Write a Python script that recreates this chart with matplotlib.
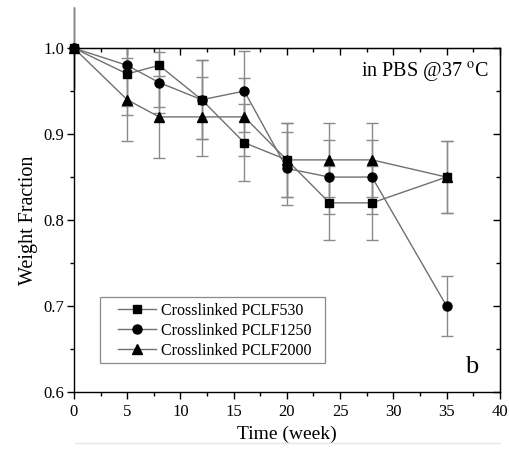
import numpy as np
import matplotlib
matplotlib.use("Agg")
import matplotlib.pyplot as plt
from matplotlib.lines import Line2D
from matplotlib.patches import Rectangle
from matplotlib.ticker import MultipleLocator

plt.rcParams['font.family'] = ['Liberation Serif', 'DejaVu Serif']
plt.rcParams['mathtext.fontset'] = 'stix'

# ----- data (weight fraction vs time in weeks) -----
weeks = [0, 5, 8, 12, 16, 20, 24, 28, 35]
pclf530 = [1.00, 0.97, 0.98, 0.94, 0.89, 0.87, 0.82, 0.82, 0.85]
pclf530_err = [0.048, 0.048, 0.048, 0.046, 0.045, 0.043, 0.043, 0.043, 0.042]
pclf1250 = [1.00, 0.98, 0.96, 0.94, 0.95, 0.86, 0.85, 0.85, 0.70]
pclf1250_err = [0.048, 0.047, 0.035, 0.046, 0.047, 0.043, 0.043, 0.043, 0.035]
pclf2000 = [1.00, 0.94, 0.92, 0.92, 0.92, 0.87, 0.87, 0.87, 0.85]
pclf2000_err = [0.048, 0.048, 0.048, 0.046, 0.045, 0.043, 0.043, 0.043, 0.042]

series = [
    ('Crosslinked PCLF530', pclf530, pclf530_err, 's'),
    ('Crosslinked PCLF1250', pclf1250, pclf1250_err, 'o'),
    ('Crosslinked PCLF2000', pclf2000, pclf2000_err, '^'),
]

fig = plt.figure(figsize=(5.1, 4.5), dpi=100)
ax = fig.add_axes([0.145, 0.129, 0.835, 0.764])

# error bars first (gray); the week-0 bar is drawn without caps, unclipped
for name, vals, err, mk in series:
    ax.errorbar(weeks[1:], vals[1:], yerr=err[1:], fmt='none', ecolor='#8a8a8a',
                elinewidth=1.0, capsize=4, capthick=1.0, zorder=2)
    eb0 = ax.errorbar(weeks[:1], vals[:1], yerr=err[:1], fmt='none',
                      ecolor='#8a8a8a', elinewidth=1.0, capsize=0, zorder=1)
    for art in eb0.get_children():
        art.set_clip_on(False)

handles = []
for name, vals, err, mk in series:
    ms = 6.5 if mk != 's' else 6
    ax.plot(weeks, vals, '-', color='#707070', lw=1.0, zorder=3)
    ax.plot(weeks, vals, mk, color='black', ms=ms, zorder=4, clip_on=False)
    handles.append(Line2D([], [], color='#707070', lw=1.0, marker=mk,
                          markerfacecolor='black', markeredgecolor='black', ms=ms))

ax.set_xlim(0, 40)
ax.set_ylim(0.6, 1.0)
ax.xaxis.set_major_locator(MultipleLocator(5))
ax.xaxis.set_minor_locator(MultipleLocator(2.5))
ax.yaxis.set_major_locator(MultipleLocator(0.1))
ax.yaxis.set_minor_locator(MultipleLocator(0.05))
ax.yaxis.set_major_formatter(plt.FuncFormatter(lambda v, p: f'{v:.1f}'))
# bottom/left ticks point out, top/right ticks point in
ax.tick_params(which='both', direction='out', labelsize=12, pad=2)
ax.tick_params(axis='x', pad=4)
ax.tick_params(which='major', length=5, width=1)
ax.tick_params(which='minor', length=3, width=1)
for sp in ax.spines.values():
    sp.set_linewidth(1.0)

top = ax.secondary_xaxis('top')
top.xaxis.set_major_locator(MultipleLocator(5))
top.xaxis.set_minor_locator(MultipleLocator(2.5))
top.tick_params(which='both', direction='in', labeltop=False)
top.tick_params(which='major', length=5, width=1)
top.tick_params(which='minor', length=3, width=1)
right = ax.secondary_yaxis('right')
right.yaxis.set_major_locator(MultipleLocator(0.1))
right.yaxis.set_minor_locator(MultipleLocator(0.05))
right.tick_params(which='both', direction='in', labelright=False)
right.tick_params(which='major', length=5, width=1)
right.tick_params(which='minor', length=3, width=1)

ax.set_xlabel('Time (week)', fontsize=14, labelpad=4)
ax.set_ylabel('Weight Fraction', fontsize=14.5, labelpad=4)

ax.text(0.975, 0.965, r'in PBS @37 $^{\rm o}$C', transform=ax.transAxes,
        ha='right', va='top', fontsize=14.5)
ax.text(0.935, 0.04, 'b', transform=ax.transAxes, ha='center', va='bottom',
        fontsize=19)

# legend entries without a frame; the box is drawn separately for wider margins
leg = ax.legend(handles, [s[0] for s in series], loc='center left',
                bbox_to_anchor=(0.103, 0.178), fontsize=11.5, frameon=False,
                handlelength=2.4, borderpad=0, borderaxespad=0,
                labelspacing=0.25, handletextpad=0.3)
ax.add_patch(Rectangle((0.061, 0.084), 0.528, 0.192, transform=ax.transAxes,
                       fill=False, edgecolor='#8a8a8a', lw=0.9, zorder=5))

# faint rule under the figure, as in the source image
fig.add_artist(Line2D([0.147, 0.98], [0.016, 0.016], color='#e6e6e6', lw=1.0))

fig.savefig('out.png', dpi=100)
